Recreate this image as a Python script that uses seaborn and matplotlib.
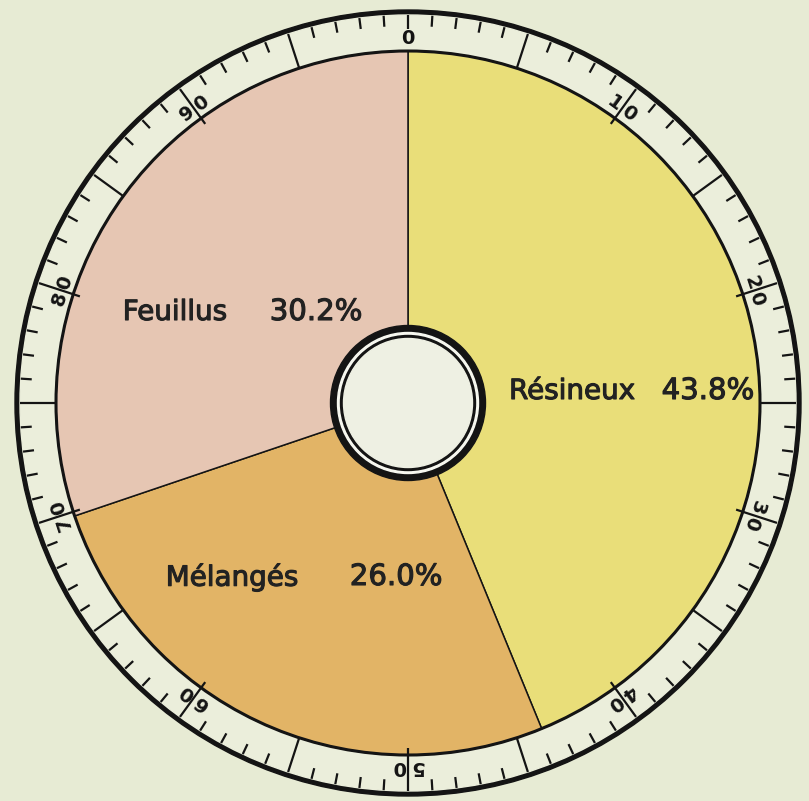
import numpy as np
import matplotlib
matplotlib.use("Agg")
import matplotlib.pyplot as plt
from matplotlib.patches import Circle
import matplotlib.patheffects as pe
import seaborn as sns

# Forest cover shares (percent)
categories = ["Résineux", "Mélangés", "Feuillus"]
shares = [43.8, 26.0, 30.2]
slice_colors = ["#E9DE79", "#E2B466", "#E6C6B3"]
dial_labels = [str(v) for v in range(0, 100, 10)]

sns.set_theme(style="white")
plt.rcParams["font.family"] = ["DejaVu Sans"]

BG = "#E7EBD4"
INK = "#141414"

fig = plt.figure(figsize=(8.09, 8.01), dpi=100, facecolor=BG)
ax = fig.add_axes([0, 0, 1, 1])
ax.set_facecolor(BG)

cx, cy = 408, 398
r_pie = 352
r_out = 393
ring_w = 5

# outer dial ring
ax.add_patch(Circle((cx, cy), r_out, color=INK, zorder=1))
ax.add_patch(Circle((cx, cy), r_out - ring_w, color="#EBEEDB", zorder=1.1))

# pie slices, clockwise from the top
palette = sns.color_palette(slice_colors)
wedges, _ = ax.pie(shares, colors=palette, startangle=90, counterclock=False,
                   radius=r_pie, center=(cx, cy),
                   wedgeprops=dict(edgecolor=INK, linewidth=1.1))
for w in wedges:
    w.set_zorder(3)
ax.add_patch(Circle((cx, cy), r_pie, fill=False, edgecolor=INK, lw=2.2, zorder=4))

# dial graduations: one per percent
r_in_ring = r_out - ring_w
for i in range(100):
    th = np.deg2rad(90 - 3.6 * i)
    if i == 0:
        r0 = r_in_ring - 14
    elif i % 10 == 0:
        r0 = r_pie - 7
    elif i % 5 == 0:
        r0 = r_pie
    else:
        r0 = r_in_ring - 11
    ax.plot([cx + r_in_ring * np.cos(th), cx + r0 * np.cos(th)],
            [cy + r_in_ring * np.sin(th), cy + r0 * np.sin(th)],
            color=INK, lw=1.6, solid_capstyle="butt", zorder=4.5)

# dial numbers, digits on either side of the tick
r_lab = 364
for k, lab in enumerate(dial_labels):
    ang = 90 - 36 * k
    rot = -36 * k
    if len(lab) == 1:
        parts = [(lab, 0.0)]
    else:
        off = np.rad2deg(8.5 / r_lab)
        parts = [(lab[0], off), (lab[1], -off)]
    for ch, d in parts:
        th = np.deg2rad(ang + d)
        ax.text(cx + r_lab * np.cos(th), cy + r_lab * np.sin(th), ch,
                rotation=rot, rotation_mode="anchor", ha="center", va="center",
                fontsize=14, fontweight="bold", color=INK, zorder=6)

# central hub
ax.add_patch(Circle((cx, cy), 77.5, color=INK, zorder=5))
ax.add_patch(Circle((cx, cy), 70.5, color="#F7F8F0", zorder=5.1))
ax.add_patch(Circle((cx, cy), 67.5, color=INK, zorder=5.2))
ax.add_patch(Circle((cx, cy), 64.5, color="#EEF0E3", zorder=5.3))

# slice captions: name and share, each centred on its spot
label_pos = {
    "Résineux": ((572, 410), (708, 410)),
    "Mélangés": ((232, 224), (396, 224)),
    "Feuillus": ((175, 489), (316, 489)),
}
stroke = [pe.withStroke(linewidth=0.8, foreground="#222222")]
for name, val in zip(categories, shares):
    (nx, ny), (px, py) = label_pos[name]
    ax.text(nx, ny, name, ha="center", va="center", fontsize=20,
            color="#222222", zorder=6, path_effects=stroke)
    ax.text(px, py, f"{val:.1f}%", ha="center", va="center", fontsize=21,
            color="#222222", zorder=6, path_effects=stroke)

ax.set_xlim(0, 809)
ax.set_ylim(0, 801)
ax.set_aspect("equal")
ax.axis("off")

fig.savefig("out.png", dpi=100, facecolor=BG)
